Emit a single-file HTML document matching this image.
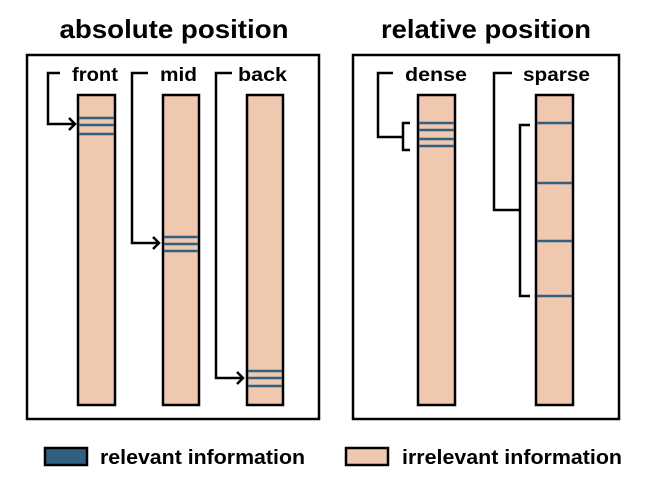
<!DOCTYPE html>
<html><head><style>body{margin:0;background:#fff}svg{display:block}</style></head><body>
<svg width="646" height="490" viewBox="0 0 646 490" xmlns="http://www.w3.org/2000/svg" font-family="Liberation Sans, Arial, sans-serif" font-weight="bold">
<text x="174" y="38" font-size="26" text-anchor="middle" textLength="229" lengthAdjust="spacingAndGlyphs">absolute position</text>
<text x="486" y="38" font-size="26" text-anchor="middle" textLength="210" lengthAdjust="spacingAndGlyphs">relative position</text>
<rect x="27" y="55" width="292" height="364" fill="none" stroke="#000" stroke-width="2.5"/>
<rect x="353" y="55" width="266" height="364" fill="none" stroke="#000" stroke-width="2.5"/>
<g fill="#f0c8b0" stroke="#000" stroke-width="2.5">
<rect x="78" y="95" width="37" height="310"/>
<rect x="163" y="95" width="36" height="310"/>
<rect x="247" y="95" width="36" height="310"/>
<rect x="418" y="95" width="37" height="310"/>
<rect x="536" y="95" width="37" height="310"/>
</g>
<g stroke="#2f6080" stroke-width="2.5">
<line x1="79" x2="114" y1="118" y2="118"/><line x1="79" x2="114" y1="125" y2="125"/><line x1="79" x2="114" y1="134" y2="134"/>
<line x1="164" x2="198" y1="237" y2="237"/><line x1="164" x2="198" y1="244" y2="244"/><line x1="164" x2="198" y1="251" y2="251"/>
<line x1="248" x2="282" y1="371" y2="371"/><line x1="248" x2="282" y1="378" y2="378"/><line x1="248" x2="282" y1="386" y2="386"/>
<line x1="419" x2="454" y1="123" y2="123"/><line x1="419" x2="454" y1="130" y2="130"/><line x1="419" x2="454" y1="139" y2="139"/><line x1="419" x2="454" y1="146" y2="146"/>
<line x1="537" x2="572" y1="123" y2="123"/><line x1="537" x2="572" y1="183" y2="183"/><line x1="537" x2="572" y1="241" y2="241"/><line x1="537" x2="572" y1="296" y2="296"/>
</g>
<g fill="none" stroke="#000" stroke-width="2.5">
<path d="M60 73 H48 V124 H75 M69 118 L75 124 L69 130"/>
<path d="M148 73 H132 V243 H159 M153 237 L159 243 L153 249"/>
<path d="M232 73 H216 V378 H243 M237 372 L243 378 L237 384"/>
<path d="M393 73 H378 V137 H403 M410 123 H403 V150 H410"/>
<path d="M512 73 H494 V210 H520 M530 125 H520 V296 H530"/>
</g>
<g font-size="19" lengthAdjust="spacingAndGlyphs">
<text x="72" y="81" textLength="46" lengthAdjust="spacingAndGlyphs">front</text>
<text x="160" y="81" textLength="37" lengthAdjust="spacingAndGlyphs">mid</text>
<text x="238" y="81" textLength="49" lengthAdjust="spacingAndGlyphs">back</text>
<text x="405" y="81" textLength="62" lengthAdjust="spacingAndGlyphs">dense</text>
<text x="523" y="81" textLength="67" lengthAdjust="spacingAndGlyphs">sparse</text>
</g>
<rect x="45" y="448" width="42" height="17" fill="#2f6080" stroke="#000" stroke-width="2.5"/>
<text x="100" y="464" font-size="20" textLength="205" lengthAdjust="spacingAndGlyphs">relevant information</text>
<rect x="346" y="448" width="42" height="17" fill="#f0c8b0" stroke="#000" stroke-width="2.5"/>
<text x="402" y="464" font-size="20" textLength="220" lengthAdjust="spacingAndGlyphs">irrelevant information</text>
</svg>
</body></html>
